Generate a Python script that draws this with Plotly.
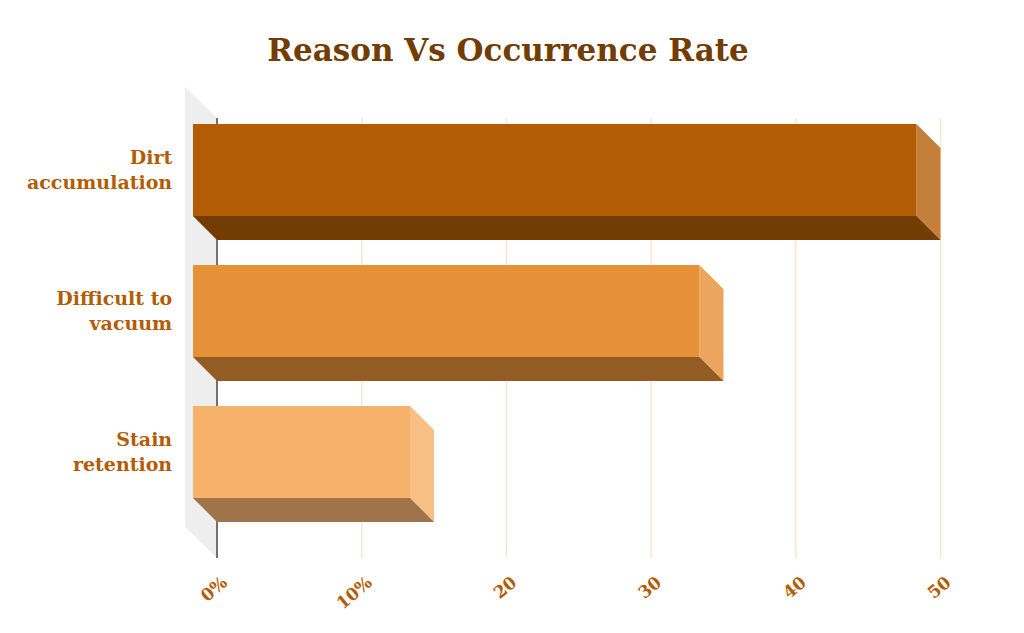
import plotly.graph_objects as go

categories = ["Dirt<br>accumulation", "Difficult to<br>vacuum", "Stain<br>retention"]
values = [50, 35, 15]
front_colors = ["#B35C04", "#E69138", "#F6B26B"]
bottom_colors = ["#733C03", "#945C25", "#A0744A"]
side_colors = ["#C4803A", "#ECA55F", "#F8C085"]
tick_values = [0, 10, 20, 30, 40, 50]
tick_labels = ["0%", "10%", "20", "30", "40", "50"]

# 3D look: depth expressed in axis units
DX, DY = 1.66, 0.17
WALL_DX, WALL_DY = 2.213, 0.22
BAR_H = 0.652
Y_TOP, Y_BOTTOM = -0.539, 2.582
X_MAX = 50.31
LABEL = "#B35C04"
FONT = "DejaVu Serif"

fig = go.Figure()
pos = list(range(len(categories)))

# side wall
fig.add_trace(go.Scatter(
    x=[-WALL_DX, 0, 0, -WALL_DX, -WALL_DX],
    y=[Y_TOP - WALL_DY, Y_TOP, Y_BOTTOM, Y_BOTTOM - WALL_DY, Y_TOP - WALL_DY],
    fill="toself", fillcolor="#EEEEEE", mode="none", showlegend=False))

# grid lines on the back plane
for t in tick_values:
    fig.add_trace(go.Scatter(
        x=[t, t], y=[Y_TOP, Y_BOTTOM], mode="lines", showlegend=False,
        line=dict(color="#444444" if t == 0 else "#FBE5D0", width=1.5)))

for i, v in zip(pos, values):
    top = i - BAR_H / 2 - DY
    bot = i + BAR_H / 2 - DY
    fig.add_trace(go.Scatter(
        x=[v - DX, v, v, v - DX, v - DX],
        y=[top, top + DY, bot + DY, bot, top],
        fill="toself", fillcolor=side_colors[i], mode="none", showlegend=False))
    fig.add_trace(go.Scatter(
        x=[-DX, v - DX, v, 0, -DX],
        y=[bot, bot, bot + DY, bot + DY, bot],
        fill="toself", fillcolor=bottom_colors[i], mode="none", showlegend=False))
    fig.add_trace(go.Scatter(
        x=[-DX, v - DX, v - DX, -DX, -DX],
        y=[top, top, bot, bot, top],
        fill="toself", fillcolor=front_colors[i], mode="none", showlegend=False))

fig.update_layout(
    width=1008, height=617, autosize=False,
    margin=dict(l=177, r=71, t=79, b=67),
    paper_bgcolor="white", plot_bgcolor="white",
    hovermode=False,
    title=dict(text="<b>Reason Vs Occurrence Rate</b>", x=500 / 1008, xanchor="center",
               y=1 - 42 / 617, yanchor="middle",
               font=dict(family=FONT, size=31, color="#733C03")),
    xaxis=dict(range=[-WALL_DX, X_MAX], tickvals=tick_values, ticktext=tick_labels,
               tickangle=-40, showgrid=False, zeroline=False, automargin=False,
               showline=False, ticks="outside", ticklen=7, tickcolor="rgba(0,0,0,0)",
               ticklabelshift=6,
               tickfont=dict(family=FONT, size=17, color=LABEL, weight=700)),
    yaxis=dict(range=[Y_BOTTOM, Y_TOP - WALL_DY], tickvals=[p - DY for p in pos], ticktext=categories,
               showgrid=False, zeroline=False, showline=False, automargin=False,
               ticks="outside", ticklen=8, tickcolor="rgba(0,0,0,0)",
               tickfont=dict(family=FONT, size=19, color=LABEL, weight=700)),
)
fig.write_html("out.html", config={"displayModeBar": False})
